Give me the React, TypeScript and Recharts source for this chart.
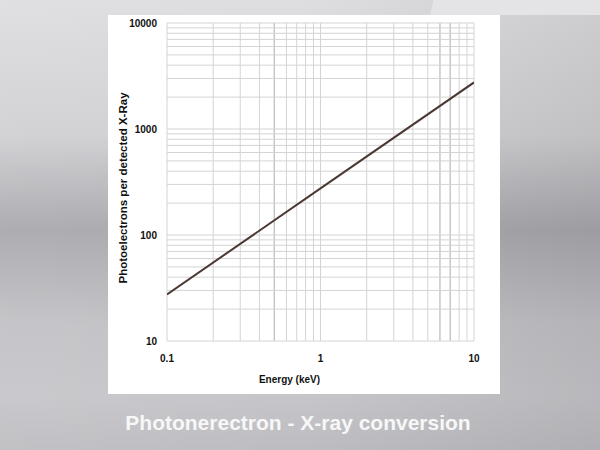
import { LineChart, Line, XAxis, YAxis, ReferenceLine } from "recharts";

// keV values and the photoelectron yield (log-log straight line)
const energies = [0.1, 1, 10];
const photoelectrons = [27.5, 275, 2750];

const xTicks = [0.1, 1, 10];
const yTicks = [10, 100, 1000, 10000];

// log grid lines
const xGrid = [0.1, 0.2, 0.3, 0.4, 0.5, 0.6, 0.7, 0.8, 0.9, 1, 2, 3, 4, 5, 6, 7, 8, 9, 10];
const xGridDark = [0.5, 6, 7];
const yGrid = [
  10, 20, 30, 40, 50, 60, 70, 80, 90,
  100, 200, 300, 400, 500, 600, 700, 800, 900,
  1000, 2000, 3000, 4000, 5000, 6000, 7000, 8000, 9000, 10000,
];

const data = energies.map((e, i) => ({ energy: e, pe: photoelectrons[i] }));

const FONT = "'Liberation Sans', Arial, sans-serif";
const tickStyle = { fontSize: 10, fontWeight: 700, fontFamily: FONT, fill: "#111" };

export default function App() {
  return (
    <div
      style={{
        position: "fixed",
        left: 0,
        top: 0,
        width: 600,
        height: 450,
        overflow: "hidden",
        background:
          "linear-gradient(180deg, #dedee0 0%, #d0d0d3 30%, #a8a8ad 51%, #c2c2c6 72%, #c6c6ca 88%, #bdbdc1 100%)",
      }}
    >
      <div
        style={{
          position: "absolute",
          inset: 0,
          background: "linear-gradient(90deg, rgba(255,255,255,0.06) 0%, rgba(0,0,0,0) 50%, rgba(0,0,0,0.07) 100%)",
        }}
      />
      <div
        style={{
          position: "absolute",
          left: 430,
          top: 0,
          width: 170,
          height: 15,
          background: "#e4e4e6",
          clipPath: "polygon(2% 0, 100% 0, 100% 100%, 0 100%)",
        }}
      />
      <div style={{ position: "absolute", left: 108, top: 15, width: 392, height: 379, background: "#fff" }}>
        <LineChart
          width={392}
          height={378}
          data={data}
          margin={{ top: 8, right: 26, left: 0, bottom: 0 }}
        >
          {xGrid.map((v) => (
            <ReferenceLine
              key={"x" + v}
              x={v}
              stroke={xGridDark.includes(v) ? "#c4c4c4" : "#d4d4d4"}
              strokeWidth={xGridDark.includes(v) ? 1.4 : 1}
            />
          ))}
          {yGrid.map((v) => (
            <ReferenceLine key={"y" + v} y={v} stroke="#d4d4d4" strokeWidth={1} />
          ))}
          <XAxis
            dataKey="energy"
            type="number"
            scale="log"
            domain={[0.1, 10]}
            ticks={xTicks}
            allowDataOverflow
            axisLine={false}
            tickLine={false}
            tickSize={6}
            tickMargin={8}
            height={52}
            tick={tickStyle}
            label={{
              content: ({ viewBox }: any) => (
                <text
                  x={viewBox.x + viewBox.width / 2 - 31}
                  y={viewBox.y + 42}
                  textAnchor="middle"
                  style={{ fontSize: 10, fontWeight: 700, fontFamily: FONT, fill: "#111" }}
                >
                  Energy (keV)
                </text>
              ),
            }}
          />
          <YAxis
            dataKey="pe"
            type="number"
            scale="log"
            domain={[10, 10000]}
            ticks={yTicks}
            allowDataOverflow
            axisLine={false}
            tickLine={false}
            tickSize={6}
            tickMargin={4}
            width={59}
            tick={tickStyle}
            label={{
              content: ({ viewBox }: any) => {
                const cx = 15;
                const cy = viewBox.y + viewBox.height / 2 + 6;
                return (
                  <text
                    x={cx}
                    y={cy}
                    transform={`rotate(-90, ${cx}, ${cy})`}
                    textAnchor="middle"
                    dominantBaseline="central"
                    style={{ fontSize: 11.5, fontWeight: 700, fontFamily: FONT, fill: "#111" }}
                  >
                    Photoelectrons per detected X-Ray
                  </text>
                );
              },
            }}
          />
          <Line
            type="linear"
            dataKey="pe"
            stroke="#4a3833"
            strokeWidth={2}
            dot={false}
            isAnimationActive={false}
          />
        </LineChart>
      </div>
      <div
        style={{
          position: "absolute",
          left: 0,
          top: 409,
          width: 596,
          textAlign: "center",
          fontFamily: FONT,
          fontWeight: 700,
          fontSize: 21,
          color: "#f7f7f7",
          lineHeight: "28px",
        }}
      >
        Photonerectron - X-ray conversion
      </div>
    </div>
  );
}
